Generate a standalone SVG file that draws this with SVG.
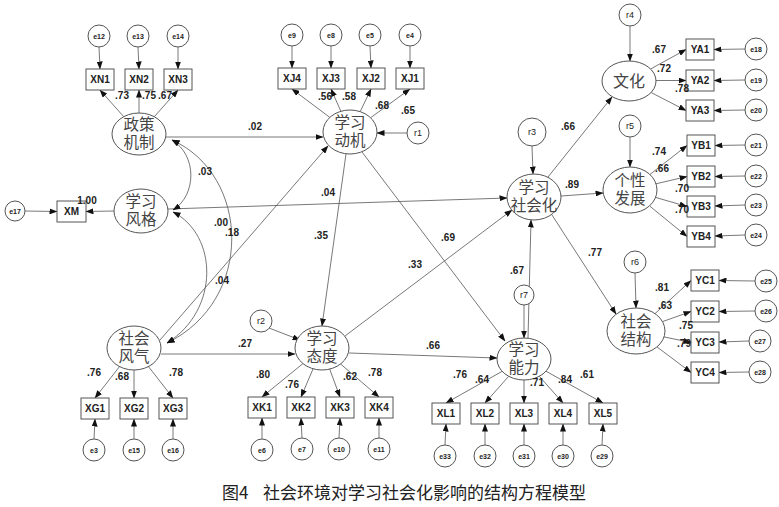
<svg xmlns="http://www.w3.org/2000/svg" width="779" height="507" viewBox="0 0 779 507">
<defs>
<marker id="ah" markerUnits="userSpaceOnUse" markerWidth="8" markerHeight="6" refX="7.5" refY="3" orient="auto-start-reverse"><path d="M0,0 L8,3 L0,6 z" fill="#111"/></marker>
<style>
.lat{fill:#fff;stroke:#555;stroke-width:1}
.box{fill:#fff;stroke:#555;stroke-width:1}
.err{fill:#fff;stroke:#555;stroke-width:1}
.ln{stroke:#555;stroke-width:0.8;fill:none;marker-end:url(#ah)}
.cov{stroke:#555;stroke-width:0.8;fill:none;marker-start:url(#ah);marker-end:url(#ah)}
.bt{font-family:"Liberation Sans",Arial,sans-serif;font-size:10px;font-weight:bold;fill:#222;text-anchor:middle}
.et{font-family:"Liberation Sans",Arial,sans-serif;font-size:7px;font-weight:bold;fill:#222;text-anchor:middle}
.rt{font-family:"Liberation Sans",Arial,sans-serif;font-size:9px;fill:#222;text-anchor:middle}
.lb{font-family:"Liberation Sans",Arial,sans-serif;font-size:10px;font-weight:bold;fill:#222;text-anchor:middle}
.cn{font-family:"Liberation Sans","Noto Sans CJK SC",sans-serif;font-size:15.5px;fill:#444;text-anchor:middle}
.cap{font-family:"Noto Sans CJK SC","Noto Sans",sans-serif;font-size:17px;fill:#222}
</style>
</defs>
<rect width="779" height="507" fill="#fff"/>

<g id="connectors">
<line class="ln" x1="99" y1="47" x2="100" y2="69"/>
<line class="ln" x1="138" y1="47" x2="139" y2="69"/>
<line class="ln" x1="178" y1="47" x2="178" y2="69"/>
<line class="ln" x1="292" y1="46" x2="292" y2="68"/>
<line class="ln" x1="331" y1="46" x2="331" y2="68"/>
<line class="ln" x1="370" y1="46" x2="371" y2="68"/>
<line class="ln" x1="410" y1="46" x2="410" y2="68"/>
<line class="ln" x1="745" y1="49" x2="714" y2="49.5"/>
<line class="ln" x1="745" y1="80" x2="714" y2="80.5"/>
<line class="ln" x1="745" y1="110" x2="714" y2="110.5"/>
<line class="ln" x1="745" y1="145" x2="715" y2="145.5"/>
<line class="ln" x1="745" y1="176" x2="715" y2="176.5"/>
<line class="ln" x1="745" y1="205" x2="715" y2="206"/>
<line class="ln" x1="745" y1="235" x2="715" y2="236"/>
<line class="ln" x1="755" y1="281" x2="719" y2="280.5"/>
<line class="ln" x1="755" y1="311" x2="719" y2="311.5"/>
<line class="ln" x1="749" y1="341" x2="719" y2="342"/>
<line class="ln" x1="749" y1="372" x2="719" y2="372.5"/>
<line class="ln" x1="94" y1="439" x2="95" y2="419"/>
<line class="ln" x1="134" y1="439" x2="134" y2="419"/>
<line class="ln" x1="173" y1="439" x2="173" y2="419"/>
<line class="ln" x1="262" y1="439" x2="262" y2="418"/>
<line class="ln" x1="302" y1="438" x2="301" y2="418"/>
<line class="ln" x1="339" y1="438" x2="340" y2="418"/>
<line class="ln" x1="379" y1="438" x2="379" y2="418"/>
<line class="ln" x1="445" y1="445" x2="446" y2="424"/>
<line class="ln" x1="485" y1="445" x2="485" y2="424"/>
<line class="ln" x1="524" y1="445" x2="524" y2="424"/>
<line class="ln" x1="563" y1="445" x2="563" y2="424"/>
<line class="ln" x1="602" y1="445" x2="603" y2="424"/>
<line class="ln" x1="25" y1="211" x2="57" y2="211.5"/>
<line class="ln" x1="114" y1="211" x2="86" y2="211.5"/>
<line class="ln" x1="123.7" y1="116.7" x2="100" y2="90"/>
<line class="ln" x1="139" y1="113" x2="139" y2="90"/>
<line class="ln" x1="154.3" y1="116.7" x2="178" y2="90"/>
<line class="ln" x1="329.8" y1="117.4" x2="292" y2="89"/>
<line class="ln" x1="340.9" y1="111.3" x2="331" y2="89"/>
<line class="ln" x1="360.2" y1="111.6" x2="371" y2="89"/>
<line class="ln" x1="370.6" y1="117.7" x2="410" y2="89"/>
<line class="ln" x1="650.6" y1="69" x2="686" y2="49.5"/>
<line class="ln" x1="656" y1="80.5" x2="686" y2="80.5"/>
<line class="ln" x1="651.1" y1="92.5" x2="686" y2="110.5"/>
<line class="ln" x1="649.9" y1="174.5" x2="687" y2="145.5"/>
<line class="ln" x1="656" y1="183.8" x2="687" y2="176.5"/>
<line class="ln" x1="655.6" y1="197.4" x2="687" y2="206.5"/>
<line class="ln" x1="649.5" y1="205.9" x2="687" y2="236.5"/>
<line class="ln" x1="655" y1="313.6" x2="691" y2="280.5"/>
<line class="ln" x1="662.5" y1="321.6" x2="691" y2="311.5"/>
<line class="ln" x1="664" y1="336.9" x2="691" y2="342.5"/>
<line class="ln" x1="657" y1="346.9" x2="691" y2="372.5"/>
<line class="ln" x1="119.5" y1="366.6" x2="95" y2="398"/>
<line class="ln" x1="134" y1="370" x2="134" y2="398"/>
<line class="ln" x1="148.5" y1="366.6" x2="173" y2="398"/>
<line class="ln" x1="302.9" y1="363.6" x2="262" y2="397"/>
<line class="ln" x1="313.1" y1="368.8" x2="301" y2="397"/>
<line class="ln" x1="329.7" y1="369.1" x2="340" y2="397"/>
<line class="ln" x1="340.6" y1="364" x2="379" y2="397"/>
<line class="ln" x1="502.2" y1="371.3" x2="446" y2="403"/>
<line class="ln" x1="508.7" y1="376.3" x2="485" y2="403"/>
<line class="ln" x1="524" y1="380" x2="524" y2="403"/>
<line class="ln" x1="539.3" y1="376.3" x2="563" y2="403"/>
<line class="ln" x1="546" y1="371.2" x2="603" y2="403"/>
<line class="ln" x1="407" y1="133" x2="377" y2="133"/>
<line class="ln" x1="532" y1="146" x2="533" y2="174"/>
<line class="ln" x1="630" y1="26" x2="630" y2="61"/>
<line class="ln" x1="630" y1="137" x2="630" y2="167"/>
<line class="ln" x1="635" y1="273" x2="636" y2="308"/>
<line class="ln" x1="269" y1="328" x2="300" y2="340"/>
<line class="ln" x1="524" y1="305" x2="524" y2="338"/>
<line class="ln" x1="166" y1="137" x2="323" y2="137"/>
<line class="ln" x1="168" y1="209" x2="507" y2="198"/>
<line class="ln" x1="160" y1="340" x2="328" y2="146"/>
<line class="ln" x1="346" y1="154" x2="322" y2="326"/>
<line class="ln" x1="362" y1="152" x2="505" y2="341"/>
<line class="ln" x1="345" y1="336" x2="512" y2="210"/>
<line class="ln" x1="161" y1="354" x2="295" y2="354"/>
<line class="ln" x1="349" y1="353" x2="497" y2="358"/>
<line class="ln" x1="528" y1="338" x2="531" y2="220"/>
<line class="ln" x1="548" y1="177" x2="612" y2="97"/>
<line class="ln" x1="561" y1="196" x2="603" y2="193"/>
<line class="ln" x1="552" y1="215" x2="616" y2="314"/>
<path class="cov" d="M172,140 C197,155 197,195 173,210"/>
<path class="cov" d="M172,140 C250,175 255,300 167,343"/>
<path class="cov" d="M173,212 C218,235 220,310 167,343"/>
</g>

<g id="n-zhengce"><ellipse class="lat" cx="139" cy="134" rx="27" ry="21"/><text class="cn" x="139" y="130">政策<tspan x="139" dy="18">机制</tspan></text></g>
<g id="n-dongji"><ellipse class="lat" cx="350" cy="132" rx="27" ry="22"/><text class="cn" x="350" y="128">学习<tspan x="350" dy="18">动机</tspan></text></g>
<g id="n-fengge"><ellipse class="lat" cx="141" cy="211" rx="27" ry="22"/><text class="cn" x="141" y="207">学习<tspan x="141" dy="18">风格</tspan></text></g>
<g id="n-fengqi"><ellipse class="lat" cx="134" cy="348" rx="27" ry="22"/><text class="cn" x="134" y="344">社会<tspan x="134" dy="18">风气</tspan></text></g>
<g id="n-taidu"><ellipse class="lat" cx="322" cy="348" rx="27" ry="22"/><text class="cn" x="322" y="344">学习<tspan x="322" dy="18">态度</tspan></text></g>
<g id="n-nengli"><ellipse class="lat" cx="524" cy="359" rx="27" ry="21"/><text class="cn" x="524" y="355">学习<tspan x="524" dy="18">能力</tspan></text></g>
<g id="n-shehuihua"><ellipse class="lat" cx="534" cy="197" rx="27" ry="23"/><text class="cn" x="534" y="193">学习<tspan x="534" dy="18">社会化</tspan></text></g>
<g id="n-wenhua"><ellipse class="lat" cx="629" cy="81" rx="27" ry="20"/><text class="cn" x="629" y="87" style="font-size:16px">文化</text></g>
<g id="n-gexing"><ellipse class="lat" cx="630" cy="190" rx="27" ry="23"/><text class="cn" x="630" y="186">个性<tspan x="630" dy="18">发展</tspan></text></g>
<g id="n-jiegou"><ellipse class="lat" cx="636" cy="331" rx="29" ry="23"/><text class="cn" x="636" y="327">社会<tspan x="636" dy="18">结构</tspan></text></g>

<g id="n-XN1"><rect class="box" x="86" y="69" width="28" height="21"/><text class="bt" x="100" y="83">XN1</text></g>
<g id="n-XN2"><rect class="box" x="125" y="69" width="28" height="21"/><text class="bt" x="139" y="83">XN2</text></g>
<g id="n-XN3"><rect class="box" x="164" y="69" width="28" height="21"/><text class="bt" x="178" y="83">XN3</text></g>
<g id="n-XJ4"><rect class="box" x="278" y="68" width="28" height="21"/><text class="bt" x="292" y="82">XJ4</text></g>
<g id="n-XJ3"><rect class="box" x="317" y="68" width="28" height="21"/><text class="bt" x="331" y="82">XJ3</text></g>
<g id="n-XJ2"><rect class="box" x="357" y="68" width="28" height="21"/><text class="bt" x="371" y="82">XJ2</text></g>
<g id="n-XJ1"><rect class="box" x="396" y="68" width="28" height="21"/><text class="bt" x="410" y="82">XJ1</text></g>
<g id="n-YA1"><rect class="box" x="686" y="39" width="28" height="21"/><text class="bt" x="700" y="53">YA1</text></g>
<g id="n-YA2"><rect class="box" x="686" y="70" width="28" height="21"/><text class="bt" x="700" y="84">YA2</text></g>
<g id="n-YA3"><rect class="box" x="686" y="100" width="28" height="21"/><text class="bt" x="700" y="114">YA3</text></g>
<g id="n-YB1"><rect class="box" x="687" y="135" width="28" height="21"/><text class="bt" x="701" y="149">YB1</text></g>
<g id="n-YB2"><rect class="box" x="687" y="166" width="28" height="21"/><text class="bt" x="701" y="180">YB2</text></g>
<g id="n-YB3"><rect class="box" x="687" y="196" width="28" height="21"/><text class="bt" x="701" y="210">YB3</text></g>
<g id="n-YB4"><rect class="box" x="687" y="226" width="28" height="21"/><text class="bt" x="701" y="240">YB4</text></g>
<g id="n-YC1"><rect class="box" x="691" y="270" width="28" height="21"/><text class="bt" x="705" y="284">YC1</text></g>
<g id="n-YC2"><rect class="box" x="691" y="301" width="28" height="21"/><text class="bt" x="705" y="315">YC2</text></g>
<g id="n-YC3"><rect class="box" x="691" y="332" width="28" height="21"/><text class="bt" x="705" y="346">YC3</text></g>
<g id="n-YC4"><rect class="box" x="691" y="362" width="28" height="21"/><text class="bt" x="705" y="376">YC4</text></g>
<g id="n-XM"><rect class="box" x="57" y="201" width="29" height="21"/><text class="bt" x="71.5" y="215">XM</text></g>
<g id="n-XG1"><rect class="box" x="81" y="398" width="28" height="21"/><text class="bt" x="95" y="412">XG1</text></g>
<g id="n-XG2"><rect class="box" x="120" y="398" width="28" height="21"/><text class="bt" x="134" y="412">XG2</text></g>
<g id="n-XG3"><rect class="box" x="159" y="398" width="28" height="21"/><text class="bt" x="173" y="412">XG3</text></g>
<g id="n-XK1"><rect class="box" x="248" y="397" width="28" height="21"/><text class="bt" x="262" y="411">XK1</text></g>
<g id="n-XK2"><rect class="box" x="287" y="397" width="28" height="21"/><text class="bt" x="301" y="411">XK2</text></g>
<g id="n-XK3"><rect class="box" x="326" y="397" width="28" height="21"/><text class="bt" x="340" y="411">XK3</text></g>
<g id="n-XK4"><rect class="box" x="365" y="397" width="28" height="21"/><text class="bt" x="379" y="411">XK4</text></g>
<g id="n-XL1"><rect class="box" x="432" y="403" width="28" height="21"/><text class="bt" x="446" y="417">XL1</text></g>
<g id="n-XL2"><rect class="box" x="471" y="403" width="28" height="21"/><text class="bt" x="485" y="417">XL2</text></g>
<g id="n-XL3"><rect class="box" x="510" y="403" width="28" height="21"/><text class="bt" x="524" y="417">XL3</text></g>
<g id="n-XL4"><rect class="box" x="549" y="403" width="28" height="21"/><text class="bt" x="563" y="417">XL4</text></g>
<g id="n-XL5"><rect class="box" x="589" y="403" width="28" height="21"/><text class="bt" x="603" y="417">XL5</text></g>

<g id="n-e12"><circle class="err" cx="99" cy="36" r="11"/><text class="et" x="99" y="38.5">e12</text></g>
<g id="n-e13"><circle class="err" cx="138" cy="36" r="11"/><text class="et" x="138" y="38.5">e13</text></g>
<g id="n-e14"><circle class="err" cx="178" cy="36" r="11"/><text class="et" x="178" y="38.5">e14</text></g>
<g id="n-e9"><circle class="err" cx="292" cy="35" r="11"/><text class="et" x="292" y="37.5">e9</text></g>
<g id="n-e8"><circle class="err" cx="331" cy="35" r="11"/><text class="et" x="331" y="37.5">e8</text></g>
<g id="n-e5"><circle class="err" cx="370" cy="35" r="11"/><text class="et" x="370" y="37.5">e5</text></g>
<g id="n-e4"><circle class="err" cx="410" cy="35" r="11"/><text class="et" x="410" y="37.5">e4</text></g>
<g id="n-e18"><circle class="err" cx="756" cy="49" r="11"/><text class="et" x="756" y="51.5">e18</text></g>
<g id="n-e19"><circle class="err" cx="756" cy="80" r="11"/><text class="et" x="756" y="82.5">e19</text></g>
<g id="n-e20"><circle class="err" cx="756" cy="110" r="11"/><text class="et" x="756" y="112.5">e20</text></g>
<g id="n-e21"><circle class="err" cx="756" cy="145" r="11"/><text class="et" x="756" y="147.5">e21</text></g>
<g id="n-e22"><circle class="err" cx="756" cy="176" r="11"/><text class="et" x="756" y="178.5">e22</text></g>
<g id="n-e23"><circle class="err" cx="756" cy="205" r="11"/><text class="et" x="756" y="207.5">e23</text></g>
<g id="n-e24"><circle class="err" cx="756" cy="235" r="11"/><text class="et" x="756" y="237.5">e24</text></g>
<g id="n-e25"><circle class="err" cx="766" cy="281" r="11"/><text class="et" x="766" y="283.5">e25</text></g>
<g id="n-e26"><circle class="err" cx="766" cy="311" r="11"/><text class="et" x="766" y="313.5">e26</text></g>
<g id="n-e27"><circle class="err" cx="760" cy="341" r="11"/><text class="et" x="760" y="343.5">e27</text></g>
<g id="n-e28"><circle class="err" cx="760" cy="372" r="11"/><text class="et" x="760" y="374.5">e28</text></g>
<g id="n-e17"><circle class="err" cx="15" cy="211" r="10"/><text class="et" x="15" y="213.5">e17</text></g>
<g id="n-e3"><circle class="err" cx="94" cy="450" r="11"/><text class="et" x="94" y="452.5">e3</text></g>
<g id="n-e15"><circle class="err" cx="134" cy="450" r="11"/><text class="et" x="134" y="452.5">e15</text></g>
<g id="n-e16"><circle class="err" cx="173" cy="450" r="11"/><text class="et" x="173" y="452.5">e16</text></g>
<g id="n-e6"><circle class="err" cx="262" cy="450" r="11"/><text class="et" x="262" y="452.5">e6</text></g>
<g id="n-e7"><circle class="err" cx="302" cy="449" r="11"/><text class="et" x="302" y="451.5">e7</text></g>
<g id="n-e10"><circle class="err" cx="339" cy="449" r="11"/><text class="et" x="339" y="451.5">e10</text></g>
<g id="n-e11"><circle class="err" cx="379" cy="449" r="11"/><text class="et" x="379" y="451.5">e11</text></g>
<g id="n-e33"><circle class="err" cx="445" cy="456" r="11"/><text class="et" x="445" y="458.5">e33</text></g>
<g id="n-e32"><circle class="err" cx="485" cy="456" r="11"/><text class="et" x="485" y="458.5">e32</text></g>
<g id="n-e31"><circle class="err" cx="524" cy="456" r="11"/><text class="et" x="524" y="458.5">e31</text></g>
<g id="n-e30"><circle class="err" cx="563" cy="456" r="11"/><text class="et" x="563" y="458.5">e30</text></g>
<g id="n-e29"><circle class="err" cx="602" cy="456" r="11"/><text class="et" x="602" y="458.5">e29</text></g>
<g id="n-r1"><circle class="err" cx="418" cy="133" r="11"/><text class="rt" x="418" y="136">r1</text></g>
<g id="n-r2"><circle class="err" cx="261" cy="321" r="11"/><text class="rt" x="261" y="324">r2</text></g>
<g id="n-r3"><circle class="err" cx="532" cy="132" r="14"/><text class="rt" x="532" y="135">r3</text></g>
<g id="n-r4"><circle class="err" cx="630" cy="15" r="11"/><text class="rt" x="630" y="18">r4</text></g>
<g id="n-r5"><circle class="err" cx="630" cy="126" r="11"/><text class="rt" x="630" y="129">r5</text></g>
<g id="n-r6"><circle class="err" cx="635" cy="262" r="11"/><text class="rt" x="635" y="265">r6</text></g>
<g id="n-r7"><circle class="err" cx="524" cy="295" r="10"/><text class="rt" x="524" y="298">r7</text></g>

<g id="labels">
<text class="lb" x="122" y="99">.73</text>
<text class="lb" x="149" y="99">.75</text>
<text class="lb" x="165" y="99">.67</text>
<text class="lb" x="325" y="100">.56</text>
<text class="lb" x="349" y="100">.58</text>
<text class="lb" x="382" y="109">.68</text>
<text class="lb" x="408" y="114">.65</text>
<text class="lb" x="255" y="130">.02</text>
<text class="lb" x="205" y="175">.03</text>
<text class="lb" x="221" y="226">.00</text>
<text class="lb" x="232" y="236">.18</text>
<text class="lb" x="222" y="284">.04</text>
<text class="lb" x="328" y="196">.04</text>
<text class="lb" x="321" y="239">.35</text>
<text class="lb" x="448" y="241">.69</text>
<text class="lb" x="415" y="268">.33</text>
<text class="lb" x="517" y="274">.67</text>
<text class="lb" x="245" y="347">.27</text>
<text class="lb" x="87" y="204">1.00</text>
<text class="lb" x="433" y="349">.66</text>
<text class="lb" x="568" y="130">.66</text>
<text class="lb" x="572" y="188">.89</text>
<text class="lb" x="595" y="256">.77</text>
<text class="lb" x="659" y="53">.67</text>
<text class="lb" x="664" y="72">.72</text>
<text class="lb" x="682" y="92">.78</text>
<text class="lb" x="659" y="155">.74</text>
<text class="lb" x="662" y="172">.66</text>
<text class="lb" x="682" y="192">.70</text>
<text class="lb" x="682" y="213">.70</text>
<text class="lb" x="662" y="291">.81</text>
<text class="lb" x="665" y="309">.63</text>
<text class="lb" x="686" y="329">.75</text>
<text class="lb" x="684" y="347">.79</text>
<text class="lb" x="94" y="376">.76</text>
<text class="lb" x="122" y="380">.68</text>
<text class="lb" x="176" y="376">.78</text>
<text class="lb" x="263" y="378">.80</text>
<text class="lb" x="292" y="388">.76</text>
<text class="lb" x="350" y="380">.62</text>
<text class="lb" x="375" y="376">.78</text>
<text class="lb" x="460" y="378">.76</text>
<text class="lb" x="482" y="383">.64</text>
<text class="lb" x="537" y="386">.71</text>
<text class="lb" x="565" y="383">.84</text>
<text class="lb" x="587" y="378">.61</text>
</g>

<g id="caption"><text class="cap" x="222" y="499">图4<tspan x="263">社会环境对学习社会化影响的结构方程模型</tspan></text></g>
</svg>
